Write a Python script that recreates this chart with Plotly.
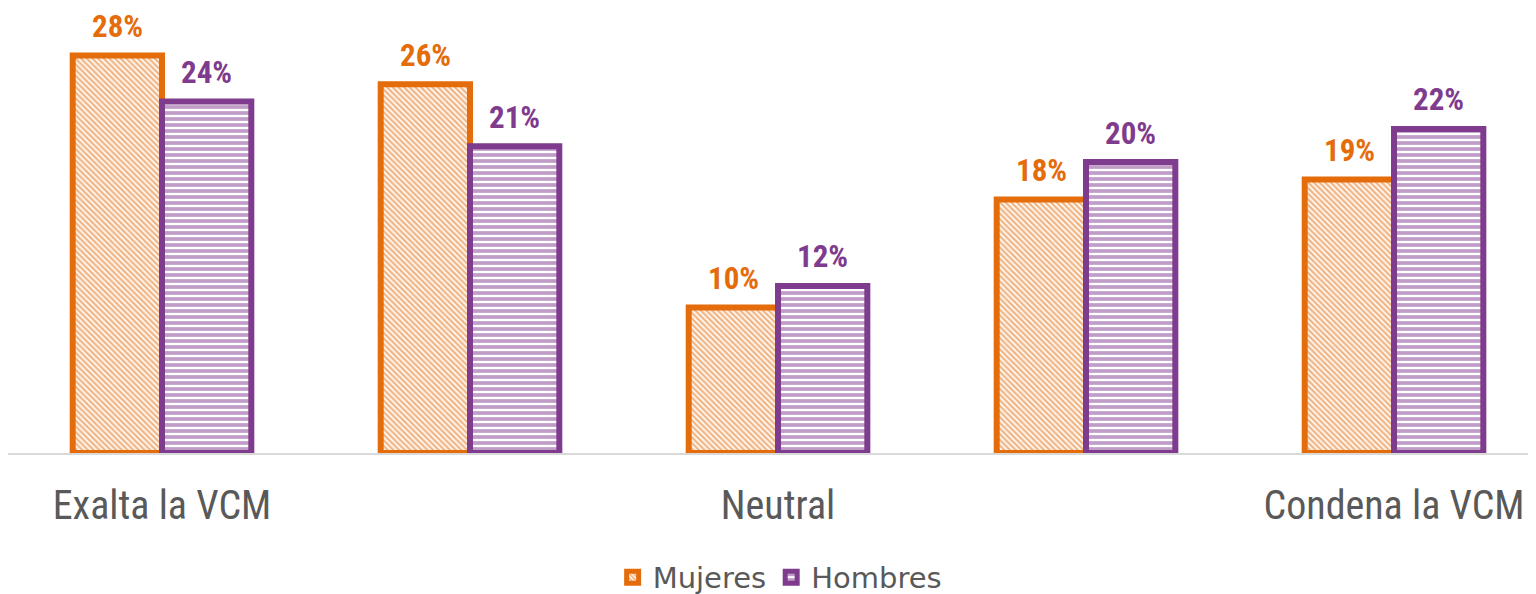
import plotly.graph_objects as go

categories = ["Exalta la VCM", "", "Neutral", "", "Condena la VCM"]
mujeres = [27.6, 25.6, 10.1, 17.6, 19.0]
hombres = [24.4, 21.3, 11.6, 20.2, 22.5]
series_names = ["Mujeres", "Hombres"]

ORANGE = "#E46C0A"
PURPLE = "#7F3B8D"
NARROW = "Liberation Sans Narrow, Arial Narrow, Roboto Condensed, sans-serif"

xs = list(range(len(categories)))
W = 0.29

fig = go.Figure()
fig.add_trace(go.Bar(
    x=xs, y=mujeres, name=series_names[0], width=W, offset=-W,
    marker=dict(color="white", line=dict(color=ORANGE, width=6),
                pattern=dict(shape="\\", fgcolor=ORANGE, bgcolor="white", size=4, solidity=0.6)),
))
fig.add_trace(go.Bar(
    x=xs, y=hombres, name=series_names[1], width=W, offset=0,
    marker=dict(color="white", line=dict(color=PURPLE, width=6),
                pattern=dict(shape="-", fgcolor=PURPLE, bgcolor="white", size=6, solidity=0.62)),
))

annotations = []
for i, (m, h) in enumerate(zip(mujeres, hombres)):
    annotations.append(dict(x=i - W / 2, y=m, text=f"{round(m)}%", showarrow=False,
                            yanchor="middle", yshift=29, borderpad=0,
                            font=dict(family=NARROW, size=31, color=ORANGE, weight="bold")))
    annotations.append(dict(x=i + W / 2, y=h, text=f"{round(h)}%", showarrow=False,
                            yanchor="middle", yshift=29, borderpad=0,
                            font=dict(family=NARROW, size=31, color=PURPLE, weight="bold")))

fig.update_layout(
    width=1528, height=586,
    margin=dict(l=0, r=0, t=0, b=141, autoexpand=False),
    plot_bgcolor="white", paper_bgcolor="white",
    barmode="overlay",
    showlegend=True,
    legend=dict(orientation="h", x=0.505, xanchor="center", y=-0.222, yanchor="top",
                font=dict(family="DejaVu Sans, sans-serif", size=29, color="#595959"),
                itemwidth=30, traceorder="normal"),
    annotations=annotations,
    xaxis=dict(range=[-0.5, 4.461], tickvals=[0, 2, 4], ticktext=[categories[0], categories[2], categories[4]],
               tickfont=dict(family=NARROW, size=40, color="#595959"),
               showline=True, linecolor="#D9D9D9", linewidth=2, showgrid=False, zeroline=False,
               ticks="", ticklabelstandoff=16, automargin=False),
    yaxis=dict(range=[0, 30.9], visible=False, showgrid=False, zeroline=False, automargin=False),
)

fig.write_html("out.html")
